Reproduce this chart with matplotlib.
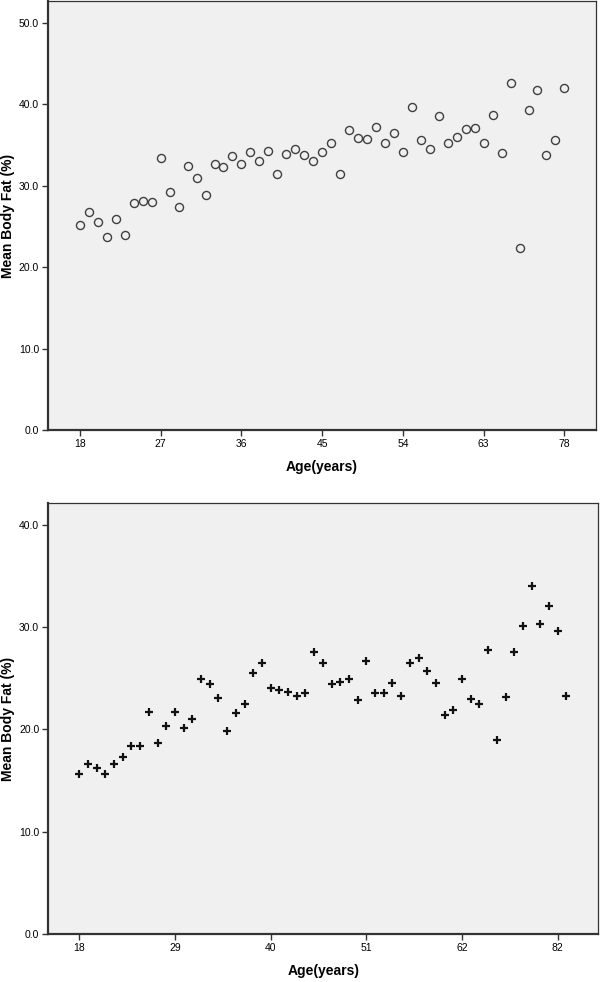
import matplotlib
matplotlib.use("Agg")
import matplotlib.pyplot as plt
import numpy as np

plt.rcParams['font.family'] = ['Liberation Sans', 'DejaVu Sans']

# top panel: categorical age axis, open circles
ages_top = list(range(18, 64)) + [64, 65, 66, 67, 68, 69, 71, 74, 78]
fat_top = [25.2, 26.8, 25.5, 23.7, 25.9, 24.0, 27.9, 28.1, 28.0, 33.4,
           29.2, 27.4, 32.4, 31.0, 28.9, 32.7, 32.3, 33.6, 32.7, 34.1,
           33.0, 34.3, 31.4, 33.9, 34.5, 33.8, 33.1, 34.2, 35.2, 31.4,
           36.9, 35.9, 35.7, 37.2, 35.3, 36.5, 34.2, 39.7, 35.6, 34.5,
           38.6, 35.2, 36.0, 37.0, 37.1, 35.3, 38.7, 34.0, 42.6, 22.4,
           39.3, 41.8, 33.8, 35.6, 42.0]

# bottom panel: categorical age axis, plus markers
ages_bot = list(range(18, 63)) + [63, 64, 65, 66, 67, 68, 69, 71, 73, 76, 82, 85]
fat_bot = [15.6, 16.6, 16.2, 15.6, 16.6, 17.3, 18.4, 18.4, 21.7, 18.7,
           20.3, 21.7, 20.1, 21.0, 24.9, 24.4, 23.1, 19.8, 21.6, 22.5,
           25.5, 26.5, 24.0, 23.8, 23.7, 23.3, 23.6, 27.6, 26.5, 24.4,
           24.6, 24.9, 22.9, 26.7, 23.6, 23.6, 24.5, 23.3, 26.5, 27.0,
           25.7, 24.5, 21.4, 21.9, 24.9, 23.0, 22.5, 27.8, 19.0, 23.2,
           27.6, 30.1, 34.0, 30.3, 32.1, 29.6, 23.3]

fig = plt.figure(figsize=(6, 9.82), dpi=100)
ax1 = fig.add_axes([0.08, 0.5621, 0.913, 0.4369])
ax2 = fig.add_axes([0.0805, 0.0489, 0.9167, 0.4386])


def style(ax, ages, step, ymax, yticks, xmax):
    ax.set_facecolor('#f0f0f0')
    ax.set_xlim(-3.56, xmax)
    ax.set_ylim(0, ymax)
    pos = list(range(0, len(ages), step))
    ax.set_xticks(pos)
    ax.set_xticklabels([str(ages[i]) for i in pos])
    ax.set_yticks(yticks)
    ax.set_yticklabels(['%.1f' % v for v in yticks])
    ax.tick_params(direction='out', length=4.5, width=1, color='#333333',
                   labelsize=7.5, pad=2)
    for s in ['left', 'bottom']:
        ax.spines[s].set_linewidth(1.6)
        ax.spines[s].set_color('#333333')
    for s in ['top', 'right']:
        ax.spines[s].set_linewidth(0.9)
        ax.spines[s].set_color('#333333')
    ax.set_xlabel('Age(years)', fontsize=10, fontweight='bold', labelpad=8)
    ax.set_ylabel('Mean Body Fat (%)', fontsize=10, fontweight='bold', labelpad=3)


ax1.plot(np.arange(len(fat_top)), fat_top, linestyle='none', marker='o',
         markersize=5.8, markerfacecolor='none', markeredgecolor='#404040',
         markeredgewidth=1.0)
style(ax1, ages_top, 9, 52.7, [0, 10, 20, 30, 40, 50], 57.5)

ax2.plot(np.arange(len(fat_bot)), fat_bot, linestyle='none', marker='+',
         markersize=6, markeredgecolor='#111111', markeredgewidth=1.6)
style(ax2, ages_bot, 11, 42.1, [0, 10, 20, 30, 40], 59.67)

fig.savefig('out.png', dpi=100)
